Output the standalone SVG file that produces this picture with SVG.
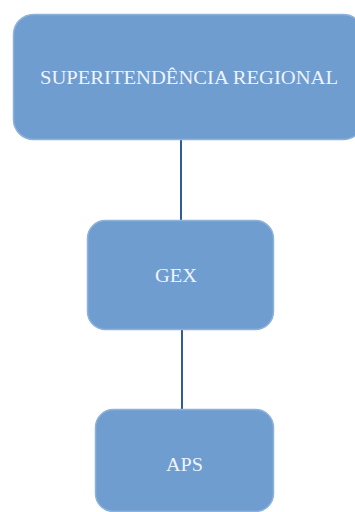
<svg xmlns="http://www.w3.org/2000/svg" width="355" height="512" viewBox="0 0 355 512">
<style>
.box{fill:#6f9dcf;stroke:#8fb2db;stroke-width:1.5}
.lbl{font-family:"Liberation Serif","DejaVu Serif",serif;font-size:19px;fill:#eef3fa;text-anchor:middle}
.con{stroke:#2e5c9c;stroke-width:2;fill:none}
</style>
<rect width="355" height="512" fill="#ffffff"/>
<g id="connectors">
<line class="con" x1="181" y1="140" x2="181" y2="221"/>
<line class="con" x1="182" y1="329" x2="182" y2="410"/>
</g>
<g id="superintendencia">
<rect class="box" x="13.5" y="14.5" width="350" height="125" rx="20"/>
<text class="lbl" x="189" y="84" textLength="298" lengthAdjust="spacingAndGlyphs">SUPERITENDÊNCIA REGIONAL</text>
</g>
<g id="gex">
<rect class="box" x="87.5" y="220.5" width="186" height="109" rx="18"/>
<text class="lbl" x="176" y="282" textLength="42" lengthAdjust="spacingAndGlyphs">GEX</text>
</g>
<g id="aps">
<rect class="box" x="95.5" y="409.5" width="178" height="102" rx="18"/>
<text class="lbl" x="184.5" y="471" textLength="37" lengthAdjust="spacingAndGlyphs">APS</text>
</g>
</svg>
